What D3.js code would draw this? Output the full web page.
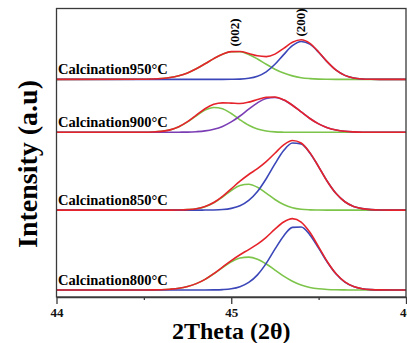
<html>
  <head>
    <title>XRD peak fitting</title>
    <style>
      html, body {
        margin: 0;
        padding: 0;
        background: #fff;
      }
      svg text {
        font-family: "Liberation Serif", "Times New Roman", serif;
        font-weight: bold;
      }
    </style>
  </head>
  <body>

<svg id="viz"></svg>

<script src="https://d3js.org/d3.v7.min.js"></script>
<script>
// 2theta sample positions (deg)
var theta = [44.0, 44.50, 44.55, 44.60, 44.65, 44.70, 44.75, 44.80, 44.85, 44.90, 44.95,
             45.00, 45.05, 45.10, 45.15, 45.20, 45.25, 45.30, 45.35, 45.40, 45.45,
             45.50, 45.55, 45.60, 45.65, 45.70, 45.75, 45.80, 45.85, 46.0];

// intensities (a.u.), one array per curve
var g950 = [0, 0.1, 0.4, 0.9, 1.8, 3.6, 6.5, 10.6, 15.6, 20.8, 25.2, 27.7, 27.6, 24.9, 20.4, 15.2, 10.2, 6.3, 3.5, 1.7, 0.8, 0.3, 0.1, 0, 0, 0, 0, 0, 0, 0];
var b950 = [0, 0, 0, 0, 0, 0, 0, 0, 0, 0, 0, 0.1, 0.3, 1.1, 3.2, 7.6, 15.1, 24.8, 33.7, 38.0, 35.3, 27.2, 17.4, 9.2, 4.0, 1.4, 0.4, 0.1, 0, 0];
var r950 = [0, 0.1, 0.4, 0.9, 1.8, 3.6, 6.5, 10.6, 15.6, 20.8, 25.2, 27.8, 27.9, 26.0, 23.6, 22.8, 25.3, 31.1, 37.2, 39.7, 36.1, 27.5, 17.5, 9.2, 4.0, 1.4, 0.4, 0.1, 0, 0];

var g900 = [0, 0.1, 0.3, 0.9, 2.4, 5.5, 10.4, 16.5, 22.2, 24.9, 23.6, 18.8, 12.5, 7.0, 3.3, 1.3, 0.4, 0.1, 0, 0, 0, 0, 0, 0, 0, 0, 0, 0, 0, 0];
var p900 = [0, 0, 0, 0, 0, 0.1, 0.2, 0.6, 1.4, 3.1, 5.9, 10.4, 16.3, 23.2, 29.5, 33.8, 34.9, 32.4, 27.1, 20.4, 13.8, 8.4, 4.6, 2.3, 1.0, 0.4, 0.1, 0, 0, 0];
var r900 = [0, 0.1, 0.3, 0.9, 2.4, 5.6, 10.6, 17.1, 23.6, 28.0, 29.5, 29.2, 28.8, 30.2, 32.8, 35.1, 35.3, 32.5, 27.1, 20.4, 13.8, 8.4, 4.6, 2.3, 1.0, 0.4, 0.1, 0, 0, 0];

var g850 = [0, 0, 0, 0, 0, 0.1, 0.5, 1.4, 3.5, 7.4, 13.2, 19.6, 24.6, 25.9, 22.9, 17.1, 10.7, 5.6, 2.5, 0.9, 0.3, 0.1, 0, 0, 0, 0, 0, 0, 0, 0];
var b850 = [0, 0, 0, 0, 0, 0, 0, 0, 0.1, 0.2, 0.6, 1.8, 4.4, 9.8, 18.7, 31.5, 46.3, 59.7, 67.3, 66.4, 57.3, 43.4, 28.7, 16.6, 8.4, 3.7, 1.5, 0.5, 0.1, 0];
var r850 = [0, 0, 0, 0, 0, 0.1, 0.5, 1.4, 3.6, 7.6, 13.8, 21.4, 29.0, 35.7, 41.6, 48.6, 57.0, 65.3, 69.8, 67.3, 57.6, 43.5, 28.7, 16.6, 8.4, 3.7, 1.5, 0.5, 0.1, 0];

var g800 = [0, 0, 0.1, 0.3, 0.8, 1.7, 3.5, 6.4, 10.7, 16.3, 22.5, 28.2, 32.0, 32.9, 30.8, 26.1, 20.0, 13.9, 8.8, 5.0, 2.6, 1.2, 0.5, 0.2, 0.1, 0, 0, 0, 0, 0];
var b800 = [0, 0, 0, 0, 0, 0, 0, 0, 0, 0.1, 0.4, 1.2, 3.3, 7.6, 15.2, 26.7, 40.9, 54.2, 62.7, 63.1, 55.2, 42.0, 27.8, 16.0, 8.0, 3.5, 1.3, 0.4, 0.1, 0];
var r800 = [0, 0, 0.1, 0.3, 0.8, 1.7, 3.5, 6.4, 10.7, 16.4, 22.9, 29.4, 35.3, 40.5, 46.0, 52.8, 60.9, 68.1, 71.5, 68.1, 57.8, 43.2, 28.3, 16.2, 8.1, 3.5, 1.3, 0.4, 0.1, 0];

var labels  = ["Calcination950\u00b0C", "Calcination900\u00b0C", "Calcination850\u00b0C", "Calcination800\u00b0C"];
var offsets = [218, 165, 87, 7];   // vertical stacking of the patterns (a.u.)
var peakNames = ["(002)", "(200)"];
var peakPos   = [45.02, 45.40];
var majorTicks = [44, 45, 46];
var minorTicks = [44.5, 45.5];

var panels = [
  {label: labels[0], offset: offsets[0], parts: [[g950, "#7cc44a"], [b950, "#3b47b8"]], total: r950},
  {label: labels[1], offset: offsets[1], parts: [[g900, "#7cc44a"], [p900, "#7a3db4"]], total: r900},
  {label: labels[2], offset: offsets[2], parts: [[g850, "#7cc44a"], [b850, "#3b47b8"]], total: r850},
  {label: labels[3], offset: offsets[3], parts: [[g800, "#7cc44a"], [b800, "#3b47b8"]], total: r800}
];

var width = 407;
var height = 343;
var margin = {left: 56.5, right: 1, top: 8.5, bottom: 46};

var svg = d3.select("#viz").attr("width", width).attr("height", height);

var x = d3.scaleLinear().domain([44, 46]).range([margin.left, width - margin.right]);
var y = d3.scaleLinear().domain([0, 289]).range([height - margin.bottom, margin.top]);

var line = function(vals, off) {
  return d3.line()
    .x(function(d, i) { return x(theta[i]); })
    .y(function(d) { return y(d + off); })
    .curve(d3.curveMonotoneX)(vals);
};

var plot = svg.append("g");

panels.forEach(function(p) {
  p.parts.forEach(function(c) {
    plot.append("path")
      .attr("d", line(c[0], p.offset))
      .attr("fill", "none")
      .attr("stroke", c[1])
      .attr("stroke-width", 1.6);
  });
  plot.append("path")
    .attr("d", line(p.total, p.offset))
    .attr("fill", "none")
    .attr("stroke", "#e5232b")
    .attr("stroke-width", 1.6);

  svg.append("text")
    .attr("x", margin.left + 1.5)
    .attr("y", y(p.offset) - 5)
    .style("font-size", "14.5px")
    .text(p.label);
});

// frame
svg.append("rect")
  .attr("x", margin.left)
  .attr("y", margin.top)
  .attr("width", x(46) - margin.left)
  .attr("height", y(0) - margin.top)
  .attr("fill", "none")
  .attr("stroke", "#3a3a3a")
  .attr("stroke-width", 1.3);

var xAxis = svg.append("g")
  .attr("transform", "translate(0," + y(0) + ")")
  .call(d3.axisBottom(x).tickValues(majorTicks).tickSize(7).tickSizeOuter(0).tickFormat(d3.format("d")));
xAxis.select(".domain").attr("stroke", "#3a3a3a").attr("stroke-width", 1.3);
xAxis.selectAll(".tick line").attr("stroke", "#3a3a3a").attr("stroke-width", 1.3);
xAxis.selectAll(".tick text").attr("fill", "#111").attr("dy", "0.75em").style("font-size", "13px");

var minor = svg.append("g")
  .attr("transform", "translate(0," + y(0) + ")")
  .call(d3.axisBottom(x).tickValues(minorTicks).tickSize(3).tickSizeOuter(0).tickFormat(""));
minor.select(".domain").remove();
minor.selectAll(".tick line").attr("stroke", "#3a3a3a").attr("stroke-width", 1.3);

// peak labels
peakNames.forEach(function(n, i) {
  svg.append("text")
    .attr("transform", "translate(" + (x(peakPos[i]) + 4) + "," + (i == 0 ? 32.5 : 22.5) + ") rotate(-90)")
    .attr("text-anchor", "middle")
    .style("font-size", "13px")
    .text(n);
});

// axis titles
svg.append("text")
  .attr("x", x(45))
  .attr("y", 339)
  .attr("text-anchor", "middle")
  .style("font-size", "24px")
  .text("2Theta (2\u03b8)");

svg.append("text")
  .attr("transform", "translate(37," + 164 + ") rotate(-90)")
  .attr("text-anchor", "middle")
  .style("font-size", "28px")
  .text("Intensity (a.u)");
</script>

  </body>
</html>
